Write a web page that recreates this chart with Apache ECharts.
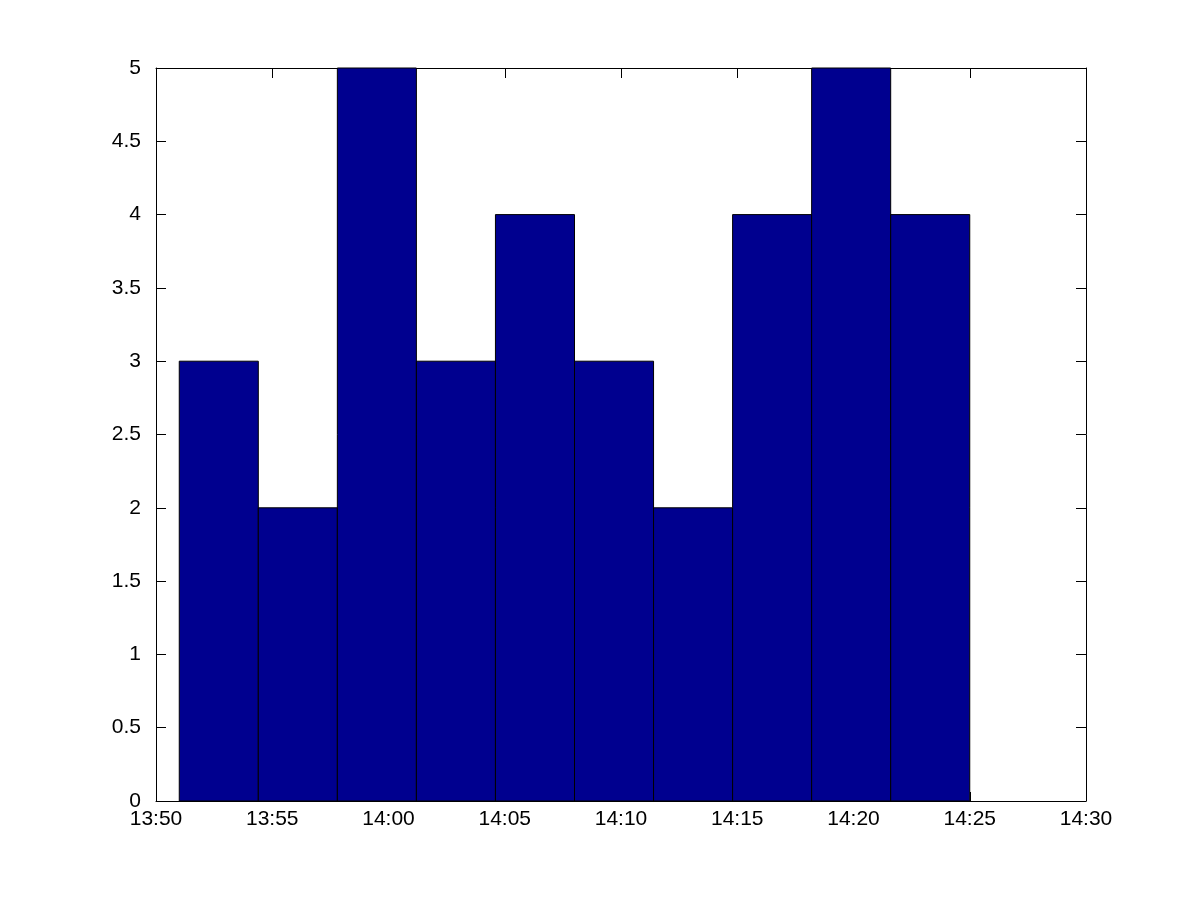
<!DOCTYPE html>
<html><head><meta charset="utf-8">
<script src="https://cdn.jsdelivr.net/npm/echarts@6/dist/echarts.min.js"></script>
<style>html,body{margin:0;padding:0;background:#fff}#c{width:1200px;height:900px}</style>
</head><body><div id="c"></div>
<script>
// Bin edges in minutes after 13:50
const binEdges = [1.0, 4.4, 7.8, 11.2, 14.6, 18.0, 21.4, 24.8, 28.2, 31.6, 35.0];
const counts = [3, 2, 5, 3, 4, 3, 2, 4, 5, 4];
const xTickLabels = ['13:50','13:55','14:00','14:05','14:10','14:15','14:20','14:25','14:30'];
const yTickLabels = ['0','0.5','1','1.5','2','2.5','3','3.5','4','4.5','5'];

const data = counts.map((c, i) => [binEdges[i], binEdges[i + 1], c]);
const chart = echarts.init(document.getElementById('c'));
const font = { fontFamily: 'Liberation Sans, Arial, sans-serif', fontSize: 21, color: '#000' };
const axisCommon = {
  z: 0,
  axisLine: { show: true, onZero: false, lineStyle: { color: '#000', width: 1 } },
  axisTick: { show: true, inside: true, length: 10, lineStyle: { color: '#000', width: 1 } },
  splitLine: { show: false }
};
chart.setOption({
  animation: false,
  backgroundColor: '#fff',
  grid: { left: 156, right: 114, top: 68, bottom: 99 },
  xAxis: [
    Object.assign({ type: 'value', position: 'bottom', min: 0, max: 40, interval: 5,
      axisLabel: Object.assign({ margin: 8, formatter: (v) => xTickLabels[Math.round(v / 5)] }, font) }, axisCommon,
      { axisTick: { show: true, inside: true, length: 9, lineStyle: { color: '#000', width: 1 } } }),
    Object.assign({ type: 'value', position: 'top', min: 0, max: 40, interval: 5,
      axisLabel: { show: false } }, axisCommon)
  ],
  yAxis: [
    Object.assign({ type: 'value', position: 'left', min: 0, max: 5, interval: 0.5,
      axisLabel: Object.assign({ margin: 15, formatter: (v) => yTickLabels[Math.round(v * 2)] }, font) }, axisCommon),
    Object.assign({ type: 'value', position: 'right', min: 0, max: 5, interval: 0.5,
      axisLabel: { show: false } }, axisCommon)
  ],
  series: [{
    type: 'custom',
    xAxisIndex: 0, yAxisIndex: 0,
    z: 5,
    data: data,
    encode: { x: [0, 1], y: 2 },
    renderItem: function (params, api) {
      const p0 = api.coord([api.value(0), 0]);
      const p1 = api.coord([api.value(1), api.value(2)]);
      return {
        type: 'rect',
        shape: { x: p0[0], y: p1[1], width: p1[0] - p0[0], height: p0[1] - p1[1] },
        style: { fill: '#00008f', stroke: '#000', lineWidth: 1 }
      };
    }
  }]
});
</script></body></html>
